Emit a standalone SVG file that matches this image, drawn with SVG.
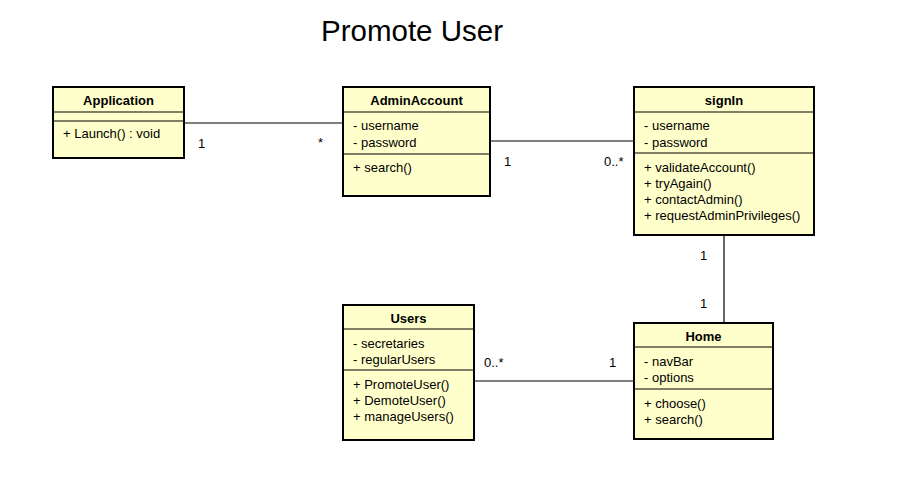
<svg xmlns="http://www.w3.org/2000/svg" width="897" height="487" viewBox="0 0 897 487">
<style>
.box{fill:#ffffcc;stroke:#000;stroke-width:2}
.div{stroke:#000;stroke-width:1.2}
.t{font-family:"Liberation Sans",Arial,sans-serif;font-size:13px;fill:#000}
.h{font-weight:bold;text-anchor:middle}
.c{stroke:#000;stroke-width:1.2;fill:none}
</style>
<rect width="897" height="487" fill="#fff"/>
<text x="412" y="41" font-family="'Liberation Sans',Arial,sans-serif" font-size="29.5" text-anchor="middle">Promote User</text>
<g id="connectors">
<line class="c" x1="184" y1="123" x2="343" y2="123"/>
<line class="c" x1="490" y1="141" x2="634" y2="141"/>
<line class="c" x1="724" y1="235" x2="724" y2="323"/>
<line class="c" x1="474" y1="381" x2="634" y2="381"/>
<text class="t" x="198" y="148">1</text>
<text class="t" x="318" y="147">*</text>
<text class="t" x="504" y="166">1</text>
<text class="t" x="604" y="166">0..*</text>
<text class="t" x="700" y="260">1</text>
<text class="t" x="700" y="308">1</text>
<text class="t" x="484" y="367">0..*</text>
<text class="t" x="609" y="367">1</text>
</g>
<g id="Application">
<rect class="box" x="53" y="87" width="131" height="71"/>
<line class="div" x1="53" y1="112" x2="184" y2="112"/>
<line class="div" x1="53" y1="121" x2="184" y2="121"/>
<text class="t h" x="118.5" y="105">Application</text>
<text class="t" x="63" y="138">+ Launch() : void</text>
</g>
<g id="AdminAccount">
<rect class="box" x="343" y="87" width="147" height="109"/>
<line class="div" x1="343" y1="112" x2="490" y2="112"/>
<line class="div" x1="343" y1="154" x2="490" y2="154"/>
<text class="t h" x="416.5" y="105">AdminAccount</text>
<text class="t" x="353" y="130">- username</text>
<text class="t" x="353" y="147">- password</text>
<text class="t" x="353" y="172">+ search()</text>
</g>
<g id="signIn">
<rect class="box" x="634" y="87" width="180" height="148"/>
<line class="div" x1="634" y1="112" x2="814" y2="112"/>
<line class="div" x1="634" y1="153" x2="814" y2="153"/>
<text class="t h" x="724" y="105">signIn</text>
<text class="t" x="644" y="130">- username</text>
<text class="t" x="644" y="147">- password</text>
<text class="t" x="644" y="172">+ validateAccount()</text>
<text class="t" x="644" y="188">+ tryAgain()</text>
<text class="t" x="644" y="204">+ contactAdmin()</text>
<text class="t" x="644" y="220">+ requestAdminPrivileges()</text>
</g>
<g id="Users">
<rect class="box" x="343" y="305" width="131" height="135"/>
<line class="div" x1="343" y1="329" x2="474" y2="329"/>
<line class="div" x1="343" y1="370" x2="474" y2="370"/>
<text class="t h" x="408.5" y="323">Users</text>
<text class="t" x="353" y="348">- secretaries</text>
<text class="t" x="353" y="364">- regularUsers</text>
<text class="t" x="353" y="389">+ PromoteUser()</text>
<text class="t" x="353" y="405">+ DemoteUser()</text>
<text class="t" x="353" y="421">+ manageUsers()</text>
</g>
<g id="Home">
<rect class="box" x="634" y="323" width="139" height="116"/>
<line class="div" x1="634" y1="347" x2="773" y2="347"/>
<line class="div" x1="634" y1="389" x2="773" y2="389"/>
<text class="t h" x="703.5" y="341">Home</text>
<text class="t" x="644" y="366">- navBar</text>
<text class="t" x="644" y="382">- options</text>
<text class="t" x="644" y="408">+ choose()</text>
<text class="t" x="644" y="424">+ search()</text>
</g>
</svg>
